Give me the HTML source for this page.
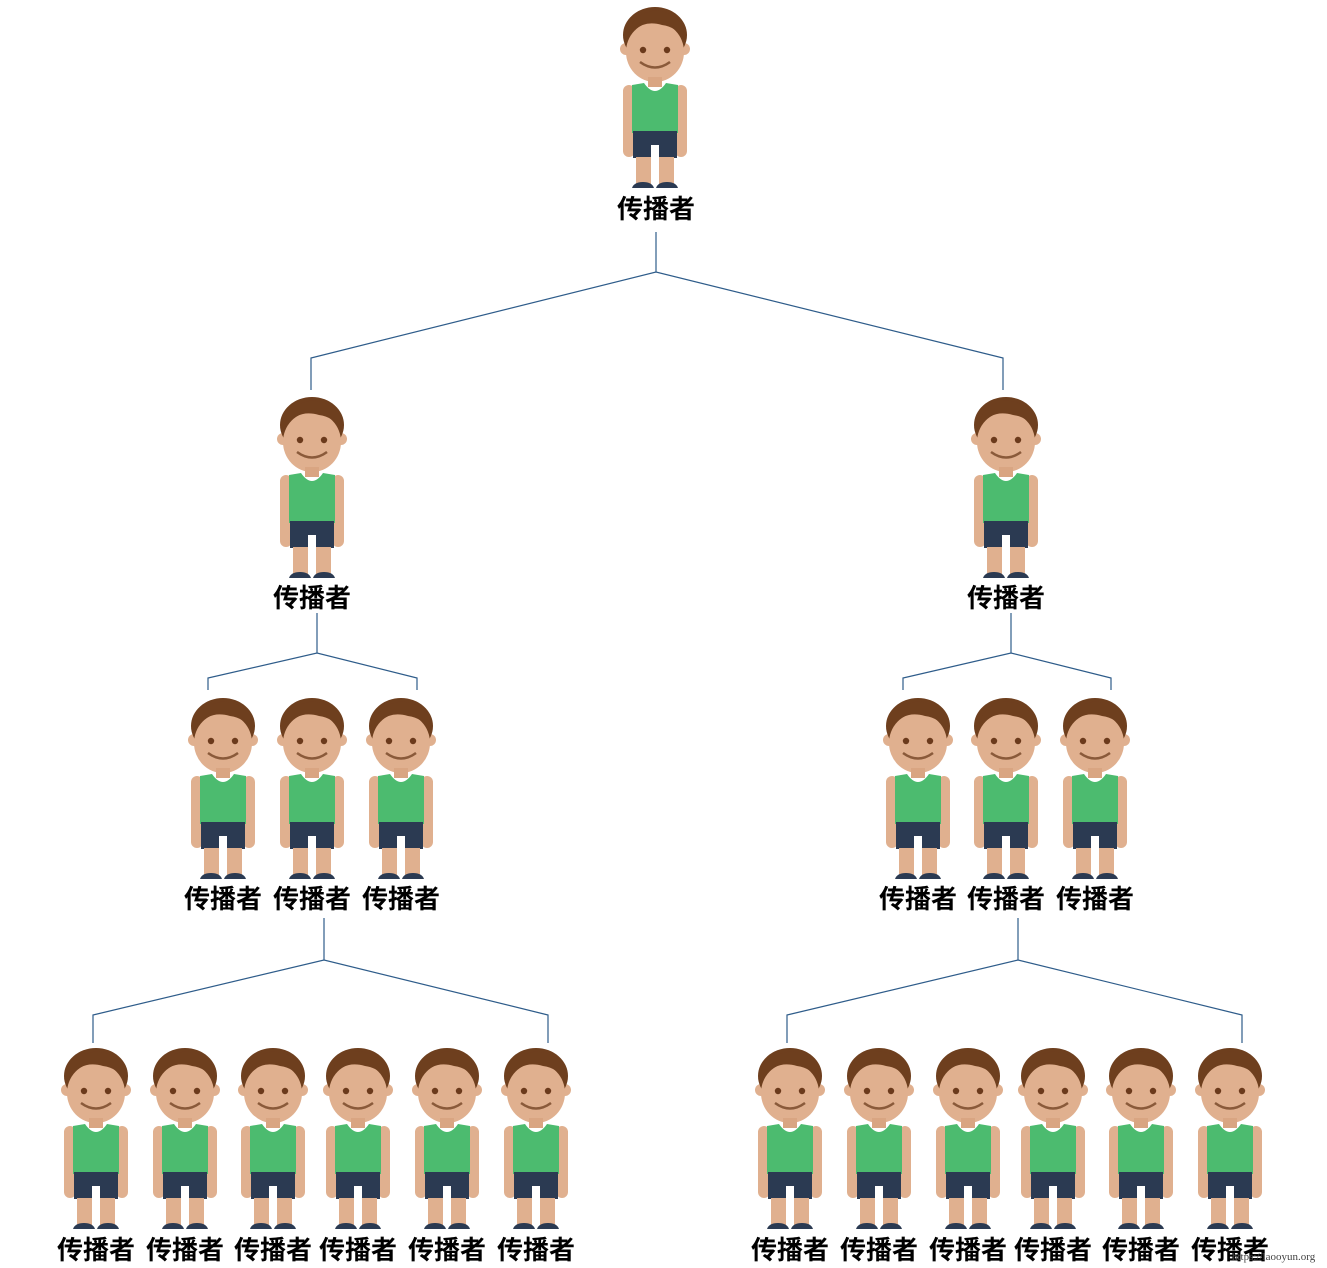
<!DOCTYPE html>
<html><head><meta charset="utf-8"><style>
body{margin:0;background:#fff;width:1327px;height:1268px;overflow:hidden}
svg{display:block}
.l{font-family:"Liberation Sans","Noto Sans CJK SC",sans-serif;font-size:26px;font-weight:bold;fill:#000;text-anchor:middle}
</style></head><body>
<svg width="1327" height="1268" viewBox="0 0 1327 1268">
<defs>
<g id="p">
<rect x="1" y="80" width="12" height="72" rx="6" fill="#E0B08F"/>
<rect x="53" y="80" width="12" height="72" rx="6" fill="#E0B08F"/>
<circle cx="4" cy="44" r="6" fill="#E0B08F"/>
<circle cx="62" cy="44" r="6" fill="#E0B08F"/>
<ellipse cx="33" cy="30" rx="32" ry="28" fill="#6E3F1E"/>
<ellipse cx="33" cy="47" rx="29" ry="30" fill="#E0B08F"/>
<path d="M8 30 Q20 14 40 20 Q55 22 60 34 L62 22 Q50 4 30 6 Q8 10 6 32Z" fill="#6E3F1E"/>
<circle cx="21" cy="45" r="3.2" fill="#6b3a1c"/>
<circle cx="45" cy="45" r="3.2" fill="#6b3a1c"/>
<path d="M18 57 Q33 68 48 57" stroke="#8a5a3a" stroke-width="2.5" fill="none"/>
<rect x="26" y="72" width="14" height="10" fill="#D9A582"/>
<path d="M10 80 L22 78 Q33 94 44 78 L56 80 L56 128 L10 128Z" fill="#4CBB6F"/>
<path d="M11 126 H55 V153 H37 V140 H29 V153 H11Z" fill="#2B3A52"/>
<rect x="14" y="152" width="15" height="27" fill="#E0B08F"/>
<rect x="37" y="152" width="15" height="27" fill="#E0B08F"/>
<path d="M10 183 Q12 177 21 177 Q30 177 32 183Z" fill="#2B3A52"/>
<path d="M34 183 Q36 177 45 177 Q54 177 56 183Z" fill="#2B3A52"/>
</g>
</defs>
<g stroke="#2E5C8A" stroke-width="1.2" fill="none">
<polyline points="656,232 656,272"/>
<polyline points="311,390 311,358 656,272 1003,358 1003,390"/>
<polyline points="317,613 317,653"/>
<polyline points="208,690 208,678 317,653 417,678 417,690"/>
<polyline points="1011,613 1011,653"/>
<polyline points="903,690 903,678 1011,653 1111,678 1111,690"/>
<polyline points="324,918 324,960"/>
<polyline points="93,1043 93,1015 324,960 548,1015 548,1043"/>
<polyline points="1018,918 1018,960"/>
<polyline points="787,1043 787,1015 1018,960 1242,1015 1242,1043"/>
</g>
<use href="#p" x="622" y="5"/>
<text class="l" x="656" y="218">传播者</text>
<use href="#p" x="279" y="395"/><text class="l" x="312" y="607">传播者</text>
<use href="#p" x="973" y="395"/><text class="l" x="1006" y="607">传播者</text>
<use href="#p" x="190" y="696"/><use href="#p" x="279" y="696"/><use href="#p" x="368" y="696"/>
<text class="l" x="223" y="908">传播者</text><text class="l" x="312" y="908">传播者</text><text class="l" x="401" y="908">传播者</text>
<use href="#p" x="885" y="696"/><use href="#p" x="973" y="696"/><use href="#p" x="1062" y="696"/>
<text class="l" x="918" y="908">传播者</text><text class="l" x="1006" y="908">传播者</text><text class="l" x="1095" y="908">传播者</text>
<use href="#p" x="63" y="1046"/><use href="#p" x="152" y="1046"/><use href="#p" x="240" y="1046"/>
<use href="#p" x="325" y="1046"/><use href="#p" x="414" y="1046"/><use href="#p" x="503" y="1046"/>
<text class="l" x="96" y="1259">传播者</text><text class="l" x="185" y="1259">传播者</text><text class="l" x="273" y="1259">传播者</text>
<text class="l" x="358" y="1259">传播者</text><text class="l" x="447" y="1259">传播者</text><text class="l" x="536" y="1259">传播者</text>
<use href="#p" x="757" y="1046"/><use href="#p" x="846" y="1046"/><use href="#p" x="935" y="1046"/>
<use href="#p" x="1020" y="1046"/><use href="#p" x="1108" y="1046"/><use href="#p" x="1197" y="1046"/>
<text class="l" x="790" y="1259">传播者</text><text class="l" x="879" y="1259">传播者</text><text class="l" x="968" y="1259">传播者</text>
<text class="l" x="1053" y="1259">传播者</text><text class="l" x="1141" y="1259">传播者</text><text class="l" x="1230" y="1259">传播者</text>
<text x="1232" y="1260" font-family="Liberation Serif,serif" font-size="11" fill="#444">https://laooyun.org</text>
</svg>
</body></html>
